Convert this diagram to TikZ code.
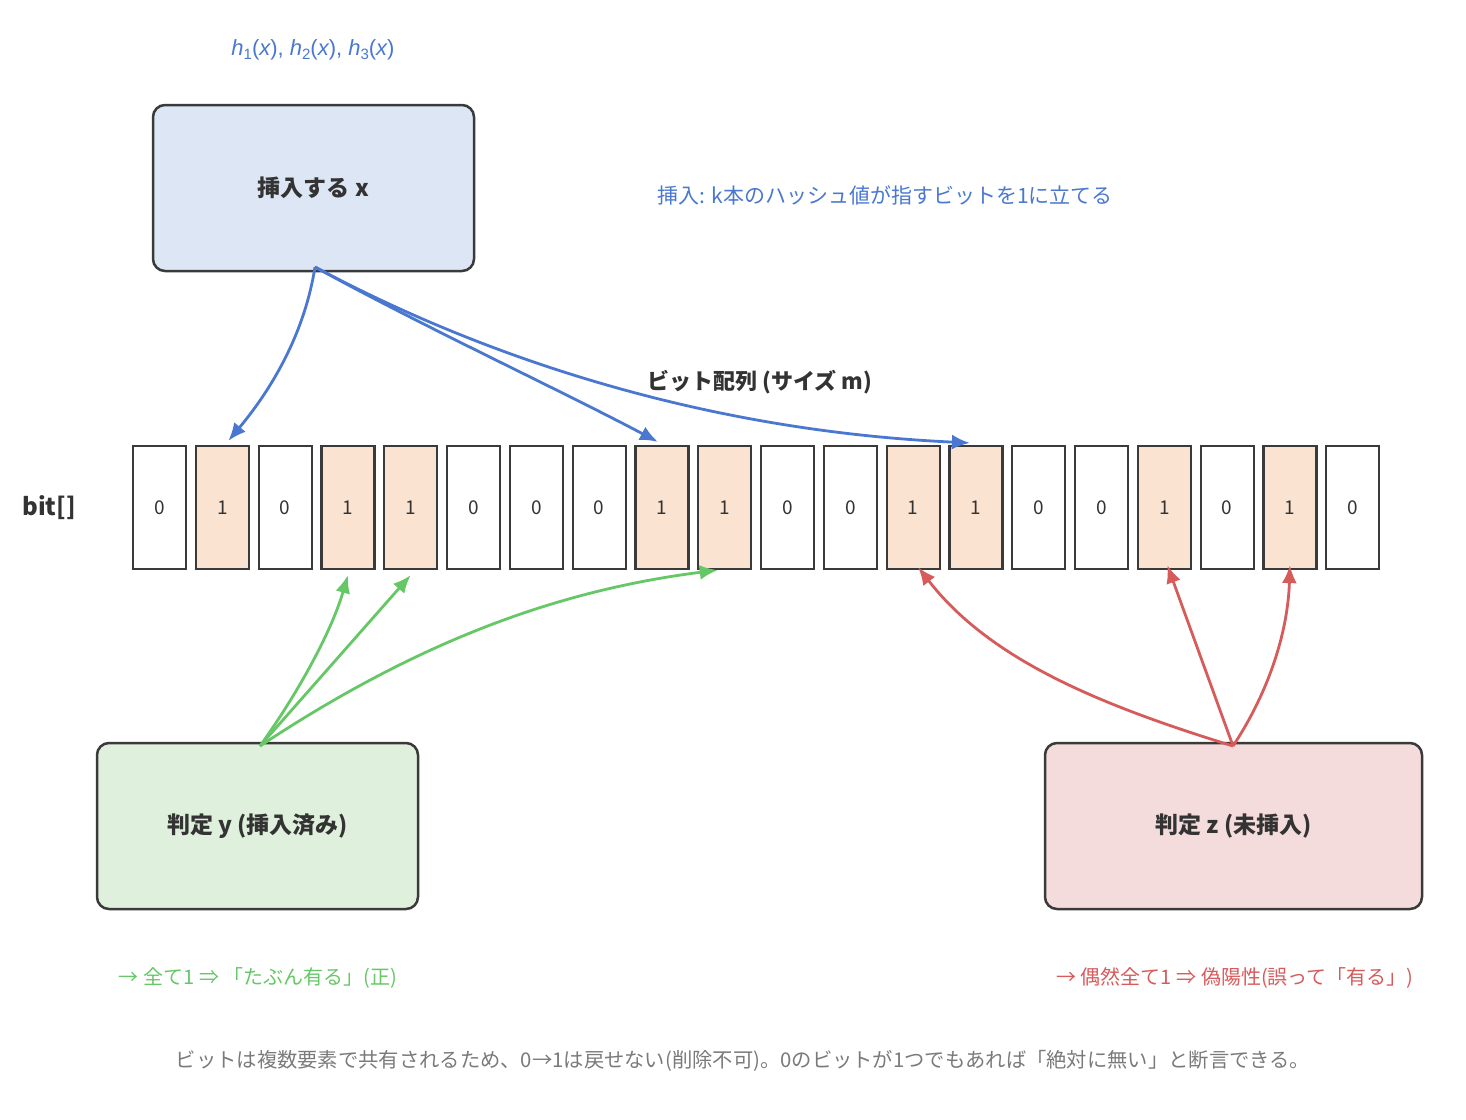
\documentclass[tikz,border=0pt]{standalone}
\usepackage{fontspec}
\setmainfont{Noto Sans CJK JP}
\setsansfont{Noto Sans CJK JP}
\newfontfamily\hfont{Liberation Sans}
\usetikzlibrary{arrows.meta}
\definecolor{bluec}{HTML}{4A78D0}
\definecolor{greenc}{HTML}{66C766}
\definecolor{redc}{HTML}{D65B5B}
\definecolor{bord}{HTML}{3A3A3A}
\definecolor{cellon}{HTML}{FBE3D2}
\definecolor{insfill}{HTML}{DDE6F4}
\definecolor{yfill}{HTML}{DFF0DC}
\definecolor{zfill}{HTML}{F5DCDC}
\definecolor{txt}{HTML}{333333}
\definecolor{gray}{HTML}{7A7A7A}
\newcommand{\hsub}[1]{{\itshape h}\raisebox{-4pt}{\fontsize{15}{17}\selectfont #1}({\itshape x})}
\tikzset{
  bigbox/.style={draw=bord, line width=2.5pt, rounded corners=12pt, font=\fontsize{23}{27}\selectfont\bfseries, text=txt},
  cell/.style={draw=bord, line width=2.2pt, minimum width=53pt, minimum height=123pt, inner sep=0pt, font=\fontsize{19}{22}\selectfont, text=txt},
  conn/.style={line width=2.8pt, -{Latex[length=18pt,width=15pt]}},
}
\begin{document}
\begin{tikzpicture}[x=1pt,y=-1pt]
\useasboundingbox (0,0) rectangle (1466,1119);
% big boxes
\node[bigbox, fill=insfill, minimum width=321pt, minimum height=166pt] (ins) at (313.5,188) {挿入する x};
\node[bigbox, fill=yfill, minimum width=321pt, minimum height=166pt] (jy) at (257.5,826) {判定 y (挿入済み)};
\node[bigbox, fill=zfill, minimum width=377pt, minimum height=166pt] (jz) at (1233.5,826) {判定 z (未挿入)};
% cells
\foreach \v [count=\i from 0] in {0,1,0,1,1,0,0,0,1,1,0,0,1,1,0,0,1,0,1,0}{
  \ifnum\v=1
    \node[cell, fill=cellon] (c\i) at ({159.5+62.8*\i},507.5) {\v};
  \else
    \node[cell, fill=white] (c\i) at ({159.5+62.8*\i},507.5) {\v};
  \fi
}
% connector anchors
\coordinate (is) at (315,267);
\coordinate (ys) at (260,746);
\coordinate (zs) at (1233,746);
% blue
\draw[conn, draw=bluec] (is) .. controls (305,330) and (275,385) .. ([xshift=6pt,yshift=4pt]c1.north);
\draw[conn, draw=bluec] (is) .. controls (420,325) and (560,390) .. ([xshift=-4pt,yshift=3pt]c8.north);
\draw[conn, draw=bluec] (is) .. controls (470,350) and (690,430) .. ([xshift=-6pt,yshift=2pt]c13.north);
% green
\draw[conn, draw=greenc] (ys) .. controls (300,690) and (332,630) .. ([yshift=-5pt]c3.south);
\draw[conn, draw=greenc] (ys) -- ([yshift=-5pt]c4.south);
\draw[conn, draw=greenc] (ys) .. controls (420,640) and (560,590) .. ([xshift=-7pt]c9.south);
% red
\draw[conn, draw=redc] (zs) .. controls (1100,705) and (990,660) .. ([xshift=5pt,yshift=3pt]c12.south);
\draw[conn, draw=redc] (zs) -- ([xshift=3pt,yshift=5pt]c16.south);
\draw[conn, draw=redc] (zs) .. controls (1270,690) and (1288,630) .. ([yshift=5pt]c18.south);
% labels
\node[text=bluec, font=\hfont\fontsize{22}{25}\selectfont] (hx) at (313,50) {\hsub{1}, \hsub{2}, \hsub{3}};
\node[text=bluec, font=\fontsize{21}{24}\selectfont] (ann) at (885,195) {挿入: k本のハッシュ値が指すビットを1に立てる};
\node[text=txt, font=\fontsize{22}{26}\selectfont\bfseries] (arr) at (760,382) {ビット配列 (サイズ m)};
\node[text=txt, font=\fontsize{24}{28}\selectfont\bfseries] (bit) at (49,508) {bit[]};
\node[text=greenc, font=\fontsize{20}{24}\selectfont] (gt) at (258,978) {→ 全て1 ⇒ 「たぶん有る」(正)};
\node[text=redc, font=\fontsize{20}{24}\selectfont] (rt) at (1235,978) {→ 偶然全て1 ⇒ 偽陽性(誤って「有る」)};
\node[text=gray, font=\fontsize{20.3}{24}\selectfont] (foot) at (743,1061) {ビットは複数要素で共有されるため、0→1は戻せない(削除不可)。0のビットが1つでもあれば「絶対に無い」と断言できる。};
\end{tikzpicture}
\end{document}
